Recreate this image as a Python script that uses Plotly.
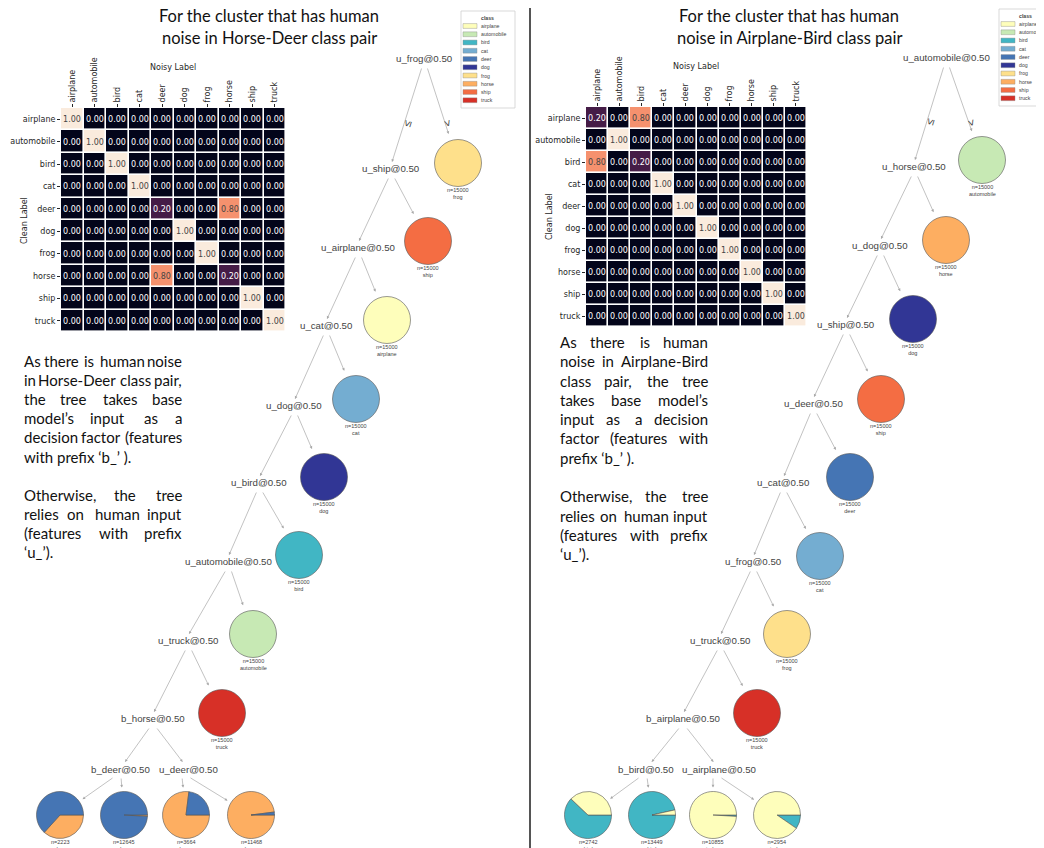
import plotly.graph_objects as go

# figure placed with the page's 8px body margin; positions below are screen pixels
OFF = 8
W, H = 1044 - OFF, 848 - OFF

# ---------------- data ----------------
CLASSES = ["airplane", "automobile", "bird", "cat", "deer",
           "dog", "frog", "horse", "ship", "truck"]
CLASS_COLORS = ["#FEFEBB", "#c7e9b4", "#41b6c4", "#74add1", "#4575b4",
                "#313695", "#fee08b", "#fdae61", "#f46d43", "#d73027"]

# noise transition matrices (rows: clean label, cols: noisy label)
LEFT_MATRIX = [
    [1.0, 0.0, 0.0, 0.0, 0.0, 0.0, 0.0, 0.0, 0.0, 0.0],
    [0.0, 1.0, 0.0, 0.0, 0.0, 0.0, 0.0, 0.0, 0.0, 0.0],
    [0.0, 0.0, 1.0, 0.0, 0.0, 0.0, 0.0, 0.0, 0.0, 0.0],
    [0.0, 0.0, 0.0, 1.0, 0.0, 0.0, 0.0, 0.0, 0.0, 0.0],
    [0.0, 0.0, 0.0, 0.0, 0.2, 0.0, 0.0, 0.8, 0.0, 0.0],
    [0.0, 0.0, 0.0, 0.0, 0.0, 1.0, 0.0, 0.0, 0.0, 0.0],
    [0.0, 0.0, 0.0, 0.0, 0.0, 0.0, 1.0, 0.0, 0.0, 0.0],
    [0.0, 0.0, 0.0, 0.0, 0.8, 0.0, 0.0, 0.2, 0.0, 0.0],
    [0.0, 0.0, 0.0, 0.0, 0.0, 0.0, 0.0, 0.0, 1.0, 0.0],
    [0.0, 0.0, 0.0, 0.0, 0.0, 0.0, 0.0, 0.0, 0.0, 1.0],
]
RIGHT_MATRIX = [
    [0.2, 0.0, 0.8, 0.0, 0.0, 0.0, 0.0, 0.0, 0.0, 0.0],
    [0.0, 1.0, 0.0, 0.0, 0.0, 0.0, 0.0, 0.0, 0.0, 0.0],
    [0.8, 0.0, 0.2, 0.0, 0.0, 0.0, 0.0, 0.0, 0.0, 0.0],
    [0.0, 0.0, 0.0, 1.0, 0.0, 0.0, 0.0, 0.0, 0.0, 0.0],
    [0.0, 0.0, 0.0, 0.0, 1.0, 0.0, 0.0, 0.0, 0.0, 0.0],
    [0.0, 0.0, 0.0, 0.0, 0.0, 1.0, 0.0, 0.0, 0.0, 0.0],
    [0.0, 0.0, 0.0, 0.0, 0.0, 0.0, 1.0, 0.0, 0.0, 0.0],
    [0.0, 0.0, 0.0, 0.0, 0.0, 0.0, 0.0, 1.0, 0.0, 0.0],
    [0.0, 0.0, 0.0, 0.0, 0.0, 0.0, 0.0, 0.0, 1.0, 0.0],
    [0.0, 0.0, 0.0, 0.0, 0.0, 0.0, 0.0, 0.0, 0.0, 1.0],
]

# decision trees
LEFT_SPLITS = ["u_frog@0.50", "u_ship@0.50", "u_airplane@0.50", "u_cat@0.50",
               "u_dog@0.50", "u_bird@0.50", "u_automobile@0.50", "u_truck@0.50",
               "b_horse@0.50"]
LEFT_PURE_LEAVES = ["frog", "ship", "airplane", "cat", "dog", "bird", "automobile", "truck"]
LEFT_PURE_N = [15000, 15000, 15000, 15000, 15000, 15000, 15000, 15000]
LEFT_BOTTOM_SPLITS = ["b_deer@0.50", "u_deer@0.50"]
LEFT_BOTTOM_N = [2223, 12645, 3664, 11468]
LEFT_BOTTOM_PRED = ["deer", "deer", "horse", "horse"]
LEFT_BOTTOM_DEER = [1407, 12520, 843, 230]
LEFT_BOTTOM_HORSE = [816, 125, 2821, 11238]

RIGHT_SPLITS = ["u_automobile@0.50", "u_horse@0.50", "u_dog@0.50", "u_ship@0.50",
                "u_deer@0.50", "u_cat@0.50", "u_frog@0.50", "u_truck@0.50",
                "b_airplane@0.50"]
RIGHT_PURE_LEAVES = ["automobile", "horse", "dog", "ship", "deer", "cat", "frog", "truck"]
RIGHT_PURE_N = [15000, 15000, 15000, 15000, 15000, 15000, 15000, 15000]
RIGHT_BOTTOM_SPLITS = ["b_bird@0.50", "u_airplane@0.50"]
RIGHT_BOTTOM_N = [2742, 13449, 10855, 2954]
RIGHT_BOTTOM_PRED = ["bird", "bird", "airplane", "airplane"]
RIGHT_BOTTOM_AIRPLANE = [1040, 470, 10750, 2670]
RIGHT_BOTTOM_BIRD = [1702, 12979, 105, 284]

LEFT_TITLE = ["For the cluster that has human", "noise in Horse-Deer class pair"]
RIGHT_TITLE = ["For the cluster that has human", "noise in Airplane-Bird class pair"]

LEFT_PARA = [("As there is human noise", True), ("in Horse-Deer class pair,", True),
             ("the tree takes base", True), ("model’s input as a", True),
             ("decision factor (features", True), ("with prefix ‘b_’ ).", False),
             None, ("Otherwise, the tree", True), ("relies on human input", True),
             ("(features with prefix", True), ("‘u_’).", False)]
RIGHT_PARA = [("As there is human", True), ("noise in Airplane-Bird", True),
              ("class pair, the tree", True), ("takes base model’s", True),
              ("input as a decision", True), ("factor (features with", True),
              ("prefix ‘b_’ ).", False), None,
              ("Otherwise, the tree", True), ("relies on human input", True),
              ("(features with prefix", True), ("‘u_’).", False)]

# ---------------- layout (pixel positions) ----------------
ROCKET = [[0.0, "#03051A"], [0.1, "#221331"], [0.2, "#451C47"], [0.3, "#6A1F56"],
          [0.4, "#921C5B"], [0.5, "#B91657"], [0.6, "#DD2C45"], [0.7, "#F06043"],
          [0.8, "#F5916E"], [0.9, "#F6BFA6"], [1.0, "#FAEBDD"]]

COLOR_OF = dict(zip(CLASSES, CLASS_COLORS))
EDGE = "#a8a8a8"
NODE_TXT = "#444443"
R = 23.5

LEFT_INT_POS = [(424, 58), (391, 168), (358, 247), (326, 325), (294, 405),
                (259, 482), (228, 561), (188, 640), (153, 718)]
LEFT_LEAF_POS = [(458, 163), (428, 241), (387, 320), (356, 399), (324, 477),
                 (299, 555), (253, 634), (222, 713)]
LEFT_BS_POS = [(120, 769), (188, 769)]
LEFT_BP_POS = [(60, 815), (124, 815), (186, 815), (251, 815)]

RIGHT_INT_POS = [(946, 57), (914, 166), (880, 245), (846, 324), (813, 403),
                 (783, 482), (753, 561), (720, 640), (683, 718)]
RIGHT_LEAF_POS = [(982, 160), (946, 240), (913, 319), (881, 399), (850, 477),
                  (820, 556), (787, 634), (757, 713)]
RIGHT_BS_POS = [(646, 769), (719, 769)]
RIGHT_BP_POS = [(588, 815), (652, 815), (713, 815), (777, 815)]


def px(x):
    return (x - OFF) / W


def py(y):
    return 1 - (y - OFF) / H


fig = go.Figure()
ann = []
shapes = []


def text_ann(x, y, text, font, xanchor="center", yanchor="middle", **kw):
    d = dict(x=px(x), y=py(y), xref="paper", yref="paper", text=text, showarrow=False,
             xanchor=xanchor, yanchor=yanchor, font=font)
    d.update(kw)
    ann.append(d)


# ---------------- heatmaps ----------------
def add_heatmap(matrix, xi, x0, x1, y0, y1, noisy_pos, clean_pos):
    xa = "x" if xi == 1 else f"x{xi}"
    ya = "y" if xi == 1 else f"y{xi}"
    fig.add_trace(go.Heatmap(
        z=matrix, x=CLASSES, y=CLASSES, xaxis=xa, yaxis=ya,
        colorscale=ROCKET, zmin=0, zmax=1, showscale=False,
        xgap=1.6, ygap=1.6, texttemplate="%{z:.2f}",
        textfont=dict(family="DejaVu Sans", size=8), hoverinfo="skip"))
    axis_common = dict(showgrid=False, zeroline=False, showline=False, ticks="outside",
                       ticklen=3, tickwidth=1, tickcolor="#262626", automargin=False,
                       tickfont=dict(family="DejaVu Sans", size=8, color="#262626"))
    fig.update_layout(**{
        ("xaxis" if xi == 1 else f"xaxis{xi}"): dict(
            domain=[px(x0), px(x1)], anchor=ya, side="top", tickangle=-90, **axis_common),
        ("yaxis" if xi == 1 else f"yaxis{xi}"): dict(
            domain=[py(y1), py(y0)], anchor=xa, autorange="reversed", **axis_common),
    })
    f = dict(family="DejaVu Sans", size=8, color="#262626")
    text_ann(noisy_pos[0], noisy_pos[1], "Noisy Label", f)
    text_ann(clean_pos[0], clean_pos[1], "Clean Label", f, textangle=-90)


add_heatmap(LEFT_MATRIX, 1, 61, 286, 108, 332, (173, 68), (24, 221))
add_heatmap(RIGHT_MATRIX, 2, 586, 807, 107, 327, (696, 67), (549, 217))

# ---------------- titles ----------------
for lines, cx in ((LEFT_TITLE, 269), (RIGHT_TITLE, 789)):
    for i, t in enumerate(lines):
        text_ann(cx, 16 + 22 * i, t, dict(family="Lato", size=16.5, color="#111"))

# ---------------- justified paragraphs ----------------
WID = {'a': .49, 'b': .55, 'c': .44, 'd': .55, 'e': .51, 'f': .31, 'g': .49,
       'h': .55, 'i': .24, 'j': .24, 'k': .48, 'l': .24, 'm': .82, 'n': .55,
       'o': .55, 'p': .55, 'q': .55, 'r': .36, 's': .41, 't': .34, 'u': .55,
       'v': .47, 'w': .73, 'x': .46, 'y': .47, 'z': .42, ' ': .2, 'A': .68,
       'B': .65, 'D': .74, 'H': .75, 'O': .78, ',': .22, '.': .22, "'": .2,
       '’': .22, '‘': .22, '(': .31, ')': .31, '-': .34, '_': .48}
PARA_SIZE = 15


def tw(s):
    return sum(WID.get(c, .5) for c in s) * PARA_SIZE


def add_para(lines, left, right, y0, step):
    f = dict(family="Lato", size=PARA_SIZE, color="#111")
    for k, item in enumerate(lines):
        if item is None:
            continue
        text, just = item
        y = y0 + k * step
        words = text.split(" ")
        if not just or len(words) == 1:
            text_ann(left, y, text, f, xanchor="left")
            continue
        widths = [tw(w) for w in words]
        gap = (right - left - sum(widths)) / (len(words) - 1)
        x = left
        for j, (w, wd) in enumerate(zip(words, widths)):
            if j == 0:
                text_ann(left, y, w, f, xanchor="left")
            elif j == len(words) - 1:
                text_ann(right, y, w, f, xanchor="right")
            else:
                text_ann(x + wd / 2, y, w, f)
            x += wd + gap


add_para(LEFT_PARA, 22, 184, 361, 19.1)
add_para(RIGHT_PARA, 558, 710, 342, 19.3)

# ---------------- legends ----------------
def add_legend(bx0, bx1, by0, by1, sw_x, first_y):
    shapes.append(dict(type="rect", xref="paper", yref="paper", x0=px(bx0), x1=px(bx1),
                       y0=py(by1), y1=py(by0), line=dict(color="#cfcfcf", width=0.8),
                       fillcolor="white"))
    f = dict(family="Liberation Sans", size=5.2, color="#444")
    text_ann(sw_x + 24, first_y - 8, "<b>class</b>", f)
    for i, (c, col) in enumerate(zip(CLASSES, CLASS_COLORS)):
        yc = first_y + i * 8.25
        shapes.append(dict(type="rect", xref="paper", yref="paper", x0=px(sw_x),
                           x1=px(sw_x + 14), y0=py(yc + 2.4), y1=py(yc - 2.4),
                           fillcolor=col, line=dict(color="#888", width=0.4)))
        text_ann(sw_x + 16, yc, c, f, xanchor="left")


add_legend(461, 515, 11, 108, 463, 26)
add_legend(999, 1060, 9, 106, 1001, 24)

# ---------------- trees ----------------
def node_label(x, y, text):
    text_ann(x, y, text, dict(family="Liberation Sans", size=9.7, color=NODE_TXT))


def arrow(tail, head):
    ann.append(dict(x=px(head[0]), y=py(head[1]), xref="paper", yref="paper",
                    ax=tail[0] - head[0], ay=tail[1] - head[1], text="", showarrow=True,
                    arrowhead=2, arrowsize=0.8, arrowwidth=0.7, arrowcolor=EDGE))


def toward(tail, center, dist):
    dx, dy = tail[0] - center[0], tail[1] - center[1]
    L = (dx * dx + dy * dy) ** 0.5
    return (center[0] + dx / L * dist, center[1] + dy / L * dist)


def pie(cx, cy, labels, values):
    # matplotlib-style: first class starts at 3 o'clock going counterclockwise
    labels = list(labels)[::-1]
    values = list(values)[::-1]
    fig.add_trace(go.Pie(
        labels=labels, values=values, sort=False, direction="clockwise",
        rotation=90, textinfo="none", hoverinfo="skip", showlegend=False,
        marker=dict(colors=[COLOR_OF[l] for l in labels], line=dict(color="#555", width=0.6)),
        domain=dict(x=[px(cx - R), px(cx + R)], y=[py(cy + R), py(cy - R)])))


def leaf_text(cx, cy, n, cls):
    text_ann(cx, cy + 30.5, f"n={n}<br>{cls}",
             dict(family="Liberation Sans", size=5.5, color="#444"))


def add_tree(splits, int_pos, leaves, leaf_n, leaf_pos, bsplits, bs_pos,
             bp_pos, bp_n, bp_pred, bp_labels, bp_values):
    for s, (x, y) in zip(splits, int_pos):
        node_label(x, y, s)
    for i in range(len(leaves)):
        x, y = int_pos[i]
        nx, ny = int_pos[i + 1]
        tl = (x - 2, y + 9)
        hl = (nx + 1, ny - 6)
        arrow(tl, hl)
        tr = (x + 3, y + 9)
        lc = leaf_pos[i]
        hr = toward(tr, lc, R + 7)
        arrow(tr, hr)
        pie(lc[0], lc[1], [leaves[i]], [leaf_n[i]])
        leaf_text(lc[0], lc[1], leaf_n[i], leaves[i])
        if i == 0:
            yl = y + 65
            for t0, h0, sym, ang in ((tl, hl, "≤", -72), (tr, hr, ">", 73)):
                tt = (yl - t0[1]) / (h0[1] - t0[1])
                xl = t0[0] + (h0[0] - t0[0]) * tt + 3
                text_ann(xl, yl, sym, dict(family="Liberation Sans", size=11, color=NODE_TXT),
                         textangle=ang)
    # last split -> bottom splits
    x, y = int_pos[-1]
    for k, (s, (bx, by)) in enumerate(zip(bsplits, bs_pos)):
        node_label(bx, by, s)
        t = (x - 3 + 6 * k, y + 9)
        frac = ((by - 7) - t[1]) / (by - t[1])
        arrow(t, (t[0] + (bx - t[0]) * frac, by - 7))
        for m in range(2):
            j = 2 * k + m
            cx, cy = bp_pos[j]
            tail = (bx - 6 + 7 * m, by + 8)
            arrow(tail, toward(tail, (cx, cy), R + 4))
            pie(cx, cy, bp_labels, [v[j] for v in bp_values])
            leaf_text(cx, cy, bp_n[j], bp_pred[j])


add_tree(LEFT_SPLITS, LEFT_INT_POS, LEFT_PURE_LEAVES, LEFT_PURE_N, LEFT_LEAF_POS,
         LEFT_BOTTOM_SPLITS, LEFT_BS_POS, LEFT_BP_POS, LEFT_BOTTOM_N, LEFT_BOTTOM_PRED,
         ["deer", "horse"], [LEFT_BOTTOM_DEER, LEFT_BOTTOM_HORSE])
add_tree(RIGHT_SPLITS, RIGHT_INT_POS, RIGHT_PURE_LEAVES, RIGHT_PURE_N, RIGHT_LEAF_POS,
         RIGHT_BOTTOM_SPLITS, RIGHT_BS_POS, RIGHT_BP_POS, RIGHT_BOTTOM_N, RIGHT_BOTTOM_PRED,
         ["airplane", "bird"], [RIGHT_BOTTOM_AIRPLANE, RIGHT_BOTTOM_BIRD])

# divider
shapes.append(dict(type="line", xref="paper", yref="paper", x0=px(530), x1=px(530),
                   y0=0, y1=1, line=dict(color="#555", width=2)))

fig.update_layout(width=W, height=H, margin=dict(l=0, r=0, t=0, b=0, autoexpand=False),
                  paper_bgcolor="white", plot_bgcolor="white", showlegend=False,
                  annotations=ann, shapes=shapes)
fig.write_html("out.html")
